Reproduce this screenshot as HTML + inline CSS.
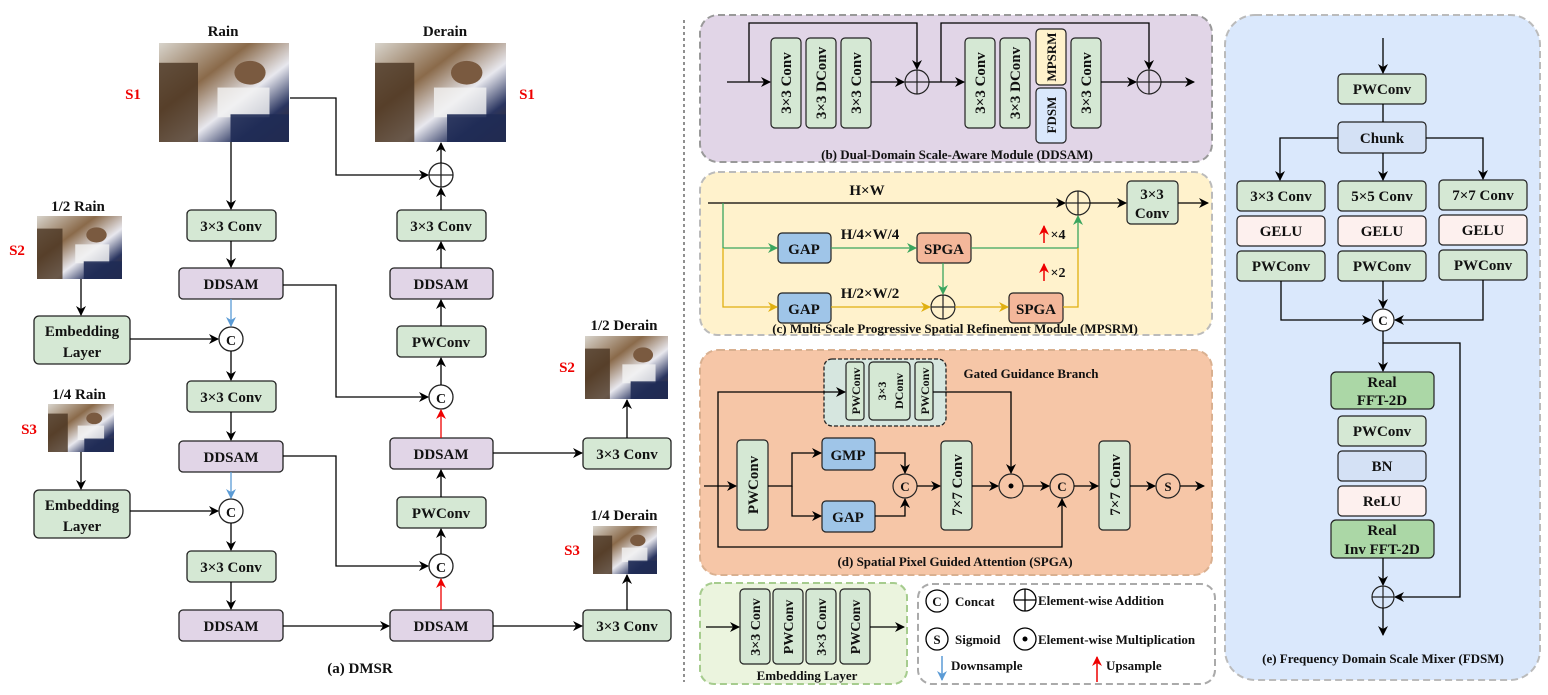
<!DOCTYPE html>
<html><head><meta charset="utf-8"><style>
body{margin:0;background:#fff}
svg, svg text{font-family:"Liberation Serif","DejaVu Serif",serif !important;font-weight:bold}
svg text{fill:#111}
</style></head><body>
<svg width="1548" height="690" viewBox="0 0 1548 690" xmlns="http://www.w3.org/2000/svg" font-family="Liberation Serif, serif" font-weight="bold">
<defs>
<marker id="a" markerWidth="10" markerHeight="10" refX="9" refY="5" orient="auto" markerUnits="userSpaceOnUse"><path d="M0,0 L10,5 L0,10 L3,5z" fill="#000"/></marker>
<marker id="g" markerWidth="10" markerHeight="10" refX="9" refY="5" orient="auto" markerUnits="userSpaceOnUse"><path d="M0,0 L10,5 L0,10 L3,5z" fill="#3aa55e"/></marker>
<marker id="y" markerWidth="10" markerHeight="10" refX="9" refY="5" orient="auto" markerUnits="userSpaceOnUse"><path d="M0,0 L10,5 L0,10 L3,5z" fill="#e0b010"/></marker>
<marker id="r" markerWidth="10" markerHeight="10" refX="9" refY="5" orient="auto" markerUnits="userSpaceOnUse"><path d="M0,0 L10,5 L0,10 L3,5z" fill="#e00"/></marker>
<marker id="b" markerWidth="10" markerHeight="10" refX="9" refY="5" orient="auto" markerUnits="userSpaceOnUse"><path d="M0,0 L10,5 L0,10 L3,5z" fill="#5b9bd5"/></marker>
<linearGradient id="img" x1="0" y1="0" x2="1" y2="1">
<stop offset="0" stop-color="#d8d4cc"/><stop offset="0.35" stop-color="#8a6a4a"/><stop offset="0.6" stop-color="#e8e8ee"/><stop offset="0.8" stop-color="#2a3560"/><stop offset="1" stop-color="#3a2a20"/></linearGradient>
<g id="pic"><rect width="100" height="100" fill="url(#img)"/><rect x="0" y="20" width="30" height="80" fill="#4a3422" opacity="0.8"/><rect x="45" y="45" width="40" height="30" fill="#f2f2f2" opacity="0.8"/><rect x="55" y="72" width="45" height="28" fill="#1f2b55" opacity="0.9"/><circle cx="70" cy="30" r="12" fill="#7a5a40"/></g>
</defs>

<!-- ===== (a) ===== -->
<g font-size="15">
<text x="223" y="36" text-anchor="middle">Rain</text>
<text x="445" y="36" text-anchor="middle">Derain</text>
<use href="#pic" transform="translate(159,43) scale(1.3,0.99)"/>
<use href="#pic" transform="translate(375,43) scale(1.31,0.99)"/>
<text x="133" y="99" text-anchor="middle" style="fill:#e00">S1</text>
<text x="527" y="99" text-anchor="middle" style="fill:#e00">S1</text>
<text x="78" y="211" text-anchor="middle">1/2 Rain</text>
<use href="#pic" transform="translate(37,216) scale(0.85,0.63)"/>
<text x="17" y="255" text-anchor="middle" style="fill:#e00">S2</text>
<text x="79" y="399" text-anchor="middle">1/4 Rain</text>
<use href="#pic" transform="translate(48,404) scale(0.66,0.48)"/>
<text x="29" y="434" text-anchor="middle" style="fill:#e00">S3</text>
<text x="624" y="330" text-anchor="middle">1/2 Derain</text>
<use href="#pic" transform="translate(585,336) scale(0.83,0.63)"/>
<text x="567" y="372" text-anchor="middle" style="fill:#e00">S2</text>
<text x="624" y="520" text-anchor="middle">1/4 Derain</text>
<use href="#pic" transform="translate(593,526) scale(0.64,0.48)"/>
<text x="572" y="555" text-anchor="middle" style="fill:#e00">S3</text>
</g>
<g stroke="#222" stroke-width="1.3" font-size="15">
<rect x="187" y="210" width="89" height="31" rx="4" fill="#d5e8d4"/>
<rect x="179" y="268" width="104" height="31" rx="4" fill="#e1d5e7"/>
<rect x="187" y="381" width="89" height="31" rx="4" fill="#d5e8d4"/>
<rect x="179" y="441" width="104" height="31" rx="4" fill="#e1d5e7"/>
<rect x="187" y="551" width="89" height="31" rx="4" fill="#d5e8d4"/>
<rect x="179" y="610" width="104" height="31" rx="4" fill="#e1d5e7"/>
<rect x="34" y="316" width="96" height="48" rx="5" fill="#d5e8d4"/>
<rect x="34" y="490" width="96" height="48" rx="5" fill="#d5e8d4"/>
<rect x="397" y="210" width="89" height="31" rx="4" fill="#d5e8d4"/>
<rect x="390" y="268" width="103" height="31" rx="4" fill="#e1d5e7"/>
<rect x="397" y="326" width="89" height="31" rx="4" fill="#d5e8d4"/>
<rect x="390" y="438" width="103" height="31" rx="4" fill="#e1d5e7"/>
<rect x="397" y="497" width="89" height="31" rx="4" fill="#d5e8d4"/>
<rect x="390" y="610" width="103" height="31" rx="4" fill="#e1d5e7"/>
<rect x="583" y="438" width="88" height="31" rx="4" fill="#d5e8d4"/>
<rect x="583" y="610" width="88" height="31" rx="4" fill="#d5e8d4"/>
<circle cx="231" cy="339" r="12" fill="#fff"/><circle cx="231" cy="511" r="12" fill="#fff"/>
<circle cx="441" cy="397" r="12" fill="#fff"/><circle cx="441" cy="566" r="12" fill="#fff"/>
<circle cx="441" cy="175" r="12" fill="#fff"/><path d="M429,175H453M441,163V187" fill="none"/>
</g>
<g font-size="15" text-anchor="middle">
<text x="231" y="231">3×3 Conv</text><text x="231" y="289">DDSAM</text>
<text x="231" y="402">3×3 Conv</text><text x="231" y="462">DDSAM</text>
<text x="231" y="572">3×3 Conv</text><text x="231" y="631">DDSAM</text>
<text x="82" y="336">Embedding</text><text x="82" y="357">Layer</text>
<text x="82" y="510">Embedding</text><text x="82" y="531">Layer</text>
<text x="441" y="231">3×3 Conv</text><text x="441" y="289">DDSAM</text>
<text x="441" y="347">PWConv</text><text x="441" y="459">DDSAM</text>
<text x="441" y="518">PWConv</text><text x="441" y="631">DDSAM</text>
<text x="627" y="459">3×3 Conv</text><text x="627" y="631">3×3 Conv</text>
<text x="231" y="345" font-size="14">C</text><text x="231" y="517" font-size="14">C</text>
<text x="441" y="403" font-size="14">C</text><text x="441" y="572" font-size="14">C</text>
<text x="360" y="673">(a) DMSR</text>
</g>
<g stroke="#000" stroke-width="1.3" fill="none" marker-end="url(#a)">
<path d="M290,98H336V175H428"/>
<path d="M231,142V209"/><path d="M231,241V267"/>
<path d="M231,351V380"/><path d="M231,412V440"/><path d="M231,523V550"/><path d="M231,582V609"/>
<path d="M81,279V315"/><path d="M81,452V489"/>
<path d="M130,339H218"/><path d="M130,511H218"/>
<path d="M283,285H336V397H428"/><path d="M283,456H336V566H428"/>
<path d="M283,626H389"/><path d="M493,626H582"/><path d="M493,453H582"/>
<path d="M627,438V400"/><path d="M627,610V575"/>
<path d="M441,385V358"/><path d="M441,326V300"/><path d="M441,268V242"/><path d="M441,210V188"/><path d="M441,163V143"/>
<path d="M441,554V529"/><path d="M441,497V470"/>
</g>
<path d="M231,299V326" stroke="#5b9bd5" stroke-width="1.3" marker-end="url(#b)"/>
<path d="M231,472V498" stroke="#5b9bd5" stroke-width="1.3" marker-end="url(#b)"/>
<path d="M441,438V410" stroke="#e00" stroke-width="1.3" marker-end="url(#r)"/>
<path d="M441,610V579" stroke="#e00" stroke-width="1.3" marker-end="url(#r)"/>
<path d="M684,20V682" stroke="#555" stroke-width="1.3" stroke-dasharray="3,3"/>

<!-- ===== (b) ===== -->
<rect x="700" y="15" width="512" height="147" rx="18" fill="#e1d5e7" stroke="#999" stroke-width="2" stroke-dasharray="7,4"/>
<g stroke="#222" stroke-width="1.2">
<rect x="771" y="38" width="30" height="90" rx="4" fill="#d5e8d4"/>
<rect x="806" y="38" width="30" height="90" rx="4" fill="#d5e8d4"/>
<rect x="841" y="38" width="30" height="90" rx="4" fill="#d5e8d4"/>
<rect x="965" y="38" width="30" height="90" rx="4" fill="#d5e8d4"/>
<rect x="1000" y="38" width="30" height="90" rx="4" fill="#d5e8d4"/>
<rect x="1036" y="29" width="30" height="56" rx="4" fill="#fff2cc"/>
<rect x="1036" y="88" width="30" height="55" rx="4" fill="#dae8fc"/>
<rect x="1071" y="38" width="30" height="90" rx="4" fill="#d5e8d4"/>
<circle cx="917" cy="82" r="12" fill="none"/><path d="M905,82H929M917,70V94" fill="none"/>
<circle cx="1149" cy="82" r="12" fill="none"/><path d="M1137,82H1161M1149,70V94" fill="none"/>
</g>
<g font-size="15" text-anchor="middle">
<text transform="translate(791,83) rotate(-90)">3×3 Conv</text>
<text transform="translate(826,83) rotate(-90)">3×3 DConv</text>
<text transform="translate(861,83) rotate(-90)">3×3 Conv</text>
<text transform="translate(985,83) rotate(-90)">3×3 Conv</text>
<text transform="translate(1020,83) rotate(-90)">3×3 DConv</text>
<text transform="translate(1056,57) rotate(-90)" font-size="13">MPSRM</text>
<text transform="translate(1056,115) rotate(-90)" font-size="13">FDSM</text>
<text transform="translate(1091,83) rotate(-90)">3×3 Conv</text>
<text x="957" y="159" font-size="13">(b) Dual-Domain Scale-Aware Module (DDSAM)</text>
</g>
<g stroke="#000" stroke-width="1.3" fill="none" marker-end="url(#a)">
<path d="M727,82H770"/><path d="M749,82V23H917V69"/><path d="M871,82H904"/>
<path d="M929,82H964"/><path d="M941,82V23H1149V69"/><path d="M1101,82H1136"/><path d="M1161,82H1194"/>
</g>

<!-- ===== (c) ===== -->
<rect x="700" y="172" width="512" height="163" rx="18" fill="#fff2cc" stroke="#bbb" stroke-width="2" stroke-dasharray="7,4"/>
<g stroke="#222" stroke-width="1.2">
<rect x="1127" y="181" width="51" height="43" rx="4" fill="#d5e8d4"/>
<rect x="778" y="233" width="53" height="30" rx="4" fill="#9fc5e8"/>
<rect x="778" y="293" width="53" height="30" rx="4" fill="#9fc5e8"/>
<rect x="917" y="233" width="54" height="30" rx="4" fill="#f4b79a"/>
<rect x="1009" y="293" width="54" height="30" rx="4" fill="#f4b79a"/>
<circle cx="1078" cy="203" r="12" fill="none"/><path d="M1066,203H1090M1078,191V215" fill="none"/>
<circle cx="943" cy="307" r="12" fill="none"/><path d="M931,307H955M943,295V319" fill="none"/>
</g>
<g font-size="15" text-anchor="middle">
<text x="867" y="195">H×W</text>
<text x="1152" y="199">3×3</text><text x="1152" y="218">Conv</text>
<text x="804" y="254">GAP</text><text x="804" y="314">GAP</text>
<text x="944" y="254">SPGA</text><text x="1036" y="314">SPGA</text>
<text x="870" y="239">H/4×W/4</text><text x="870" y="298">H/2×W/2</text>
<text x="1058" y="239" font-size="14">×4</text><text x="1058" y="277" font-size="14">×2</text>
<text x="955" y="333" font-size="13">(c) Multi-Scale Progressive Spatial Refinement Module  (MPSRM)</text>
</g>
<path d="M1044,243V226" stroke="#e00" stroke-width="1.5" marker-end="url(#r)"/>
<path d="M1044,281V264" stroke="#e00" stroke-width="1.5" marker-end="url(#r)"/>
<g stroke="#000" stroke-width="1.3" fill="none" marker-end="url(#a)">
<path d="M708,203H1065"/><path d="M1090,203H1126"/><path d="M1178,203H1208"/>
</g>
<g stroke="#3aa55e" stroke-width="1.3" fill="none" marker-end="url(#g)">
<path d="M723,203V248H777"/><path d="M831,248H916"/><path d="M971,248H1078V216"/><path d="M943,263V294"/>
</g>
<g stroke="#e0b010" stroke-width="1.3" fill="none" marker-end="url(#y)">
<path d="M723,248V307H777"/><path d="M831,307H930"/><path d="M955,307H1008"/>
</g>
<path d="M1063,307H1078V248" stroke="#e0b010" stroke-width="1.3" fill="none"/>

<!-- ===== (d) ===== -->
<rect x="700" y="350" width="512" height="225" rx="18" fill="#f6c6a7" stroke="#d9b090" stroke-width="2" stroke-dasharray="7,4"/>
<rect x="824" y="359" width="122" height="67" rx="8" fill="#d6e6df" stroke="#222" stroke-width="1.3" stroke-dasharray="4,2"/>
<g stroke="#222" stroke-width="1.2">
<rect x="846" y="362" width="18" height="58" rx="3" fill="#d5e8d4"/>
<rect x="869" y="362" width="41" height="58" rx="4" fill="#d5e8d4"/>
<rect x="915" y="362" width="18" height="58" rx="3" fill="#d5e8d4"/>
<rect x="737" y="440" width="31" height="90" rx="4" fill="#d5e8d4"/>
<rect x="822" y="438" width="53" height="32" rx="4" fill="#9fc5e8"/>
<rect x="822" y="501" width="53" height="31" rx="4" fill="#9fc5e8"/>
<rect x="941" y="441" width="31" height="89" rx="4" fill="#d5e8d4"/>
<rect x="1099" y="441" width="31" height="89" rx="4" fill="#d5e8d4"/>
<circle cx="905" cy="486" r="12" fill="none"/><circle cx="1011" cy="486" r="12" fill="none"/>
<circle cx="1062" cy="486" r="12" fill="none"/><circle cx="1168" cy="486" r="12" fill="none"/>
</g>
<circle cx="1011" cy="486" r="2.5" fill="#000"/>
<g font-size="15" text-anchor="middle">
<text transform="translate(860,391) rotate(-90)" font-size="12">PWConv</text>
<text transform="translate(886,391) rotate(-90)" font-size="12">3×3</text>
<text transform="translate(903,391) rotate(-90)" font-size="12">DConv</text>
<text transform="translate(929,391) rotate(-90)" font-size="12">PWConv</text>
<text x="1031" y="378" font-size="13">Gated Guidance Branch</text>
<text transform="translate(758,485) rotate(-90)">PWConv</text>
<text x="848" y="460">GMP</text><text x="848" y="522">GAP</text>
<text transform="translate(962,485) rotate(-90)">7×7 Conv</text>
<text transform="translate(1120,485) rotate(-90)">7×7 Conv</text>
<text x="905" y="491" font-size="13">C</text><text x="1062" y="491" font-size="13">C</text><text x="1168" y="491" font-size="13">S</text>
<text x="955" y="566" font-size="13">(d) Spatial Pixel Guided Attention (SPGA)</text>
</g>
<g stroke="#000" stroke-width="1.3" fill="none" marker-end="url(#a)">
<path d="M704,486H736"/><path d="M718,486V392H845"/><path d="M933,392H1011V473"/>
<path d="M768,486H792V453H821"/><path d="M792,486V516H821"/>
<path d="M875,453H905V473"/><path d="M875,516H905V499"/>
<path d="M917,486H940"/><path d="M972,486H998"/><path d="M1023,486H1049"/>
<path d="M718,486V547H1062V499"/><path d="M1074,486H1098"/><path d="M1130,486H1155"/><path d="M1180,486H1204"/>
</g>

<!-- ===== Embedding ===== -->
<rect x="700" y="583" width="207" height="101" rx="14" fill="#ebf4de" stroke="#a6cc8e" stroke-width="2" stroke-dasharray="7,4"/>
<g stroke="#222" stroke-width="1.2" fill="#d5e8d4">
<rect x="740" y="589" width="30" height="75" rx="4"/><rect x="773" y="589" width="30" height="75" rx="4"/>
<rect x="806" y="589" width="30" height="75" rx="4"/><rect x="840" y="589" width="30" height="75" rx="4"/>
</g>
<g font-size="14" text-anchor="middle">
<text transform="translate(760,627) rotate(-90)">3×3 Conv</text>
<text transform="translate(793,627) rotate(-90)">PWConv</text>
<text transform="translate(826,627) rotate(-90)">3×3 Conv</text>
<text transform="translate(860,627) rotate(-90)">PWConv</text>
<text x="807" y="680" font-size="13">Embedding Layer</text>
</g>
<g stroke="#000" stroke-width="1.3" fill="none" marker-end="url(#a)"><path d="M706,627H739"/><path d="M870,627H904"/></g>

<!-- ===== Legend ===== -->
<rect x="918" y="584" width="297" height="100" rx="14" fill="#fff" stroke="#aaa" stroke-width="2" stroke-dasharray="7,4"/>
<g stroke="#000" stroke-width="1.3" fill="none">
<circle cx="937" cy="601" r="11"/><circle cx="1025" cy="600" r="11"/><path d="M1014,600H1036M1025,589V611"/>
<circle cx="937" cy="639" r="11"/><circle cx="1025" cy="639" r="11"/>
</g>
<circle cx="1025" cy="639" r="2.5" fill="#000"/>
<g font-size="13">
<text x="937" y="606" text-anchor="middle">C</text><text x="955" y="606">Concat</text>
<text x="1038" y="605">Element-wise Addition</text>
<text x="937" y="644" text-anchor="middle">S</text><text x="955" y="644">Sigmoid</text>
<text x="1038" y="644">Element-wise Multiplication</text>
<text x="951" y="670">Downsample</text><text x="1106" y="670">Upsample</text>
</g>
<path d="M942,656V680" stroke="#5b9bd5" stroke-width="1.5" marker-end="url(#b)"/>
<path d="M1097,682V657" stroke="#e00" stroke-width="1.5" marker-end="url(#r)"/>

<!-- ===== (e) ===== -->
<rect x="1225" y="15" width="315" height="665" rx="30" fill="#dae8fc" stroke="#bbb" stroke-width="2" stroke-dasharray="7,4"/>
<g stroke="#222" stroke-width="1.2">
<rect x="1338" y="74" width="88" height="30" rx="4" fill="#d5e8d4"/>
<rect x="1338" y="122" width="88" height="31" rx="4" fill="#d4e1f5"/>
<rect x="1237" y="181" width="88" height="30" rx="4" fill="#d5e8d4"/>
<rect x="1237" y="216" width="88" height="30" rx="4" fill="#fdf0ee"/>
<rect x="1237" y="251" width="88" height="30" rx="4" fill="#d5e8d4"/>
<rect x="1338" y="181" width="88" height="30" rx="4" fill="#d5e8d4"/>
<rect x="1338" y="216" width="88" height="30" rx="4" fill="#fdf0ee"/>
<rect x="1338" y="251" width="88" height="30" rx="4" fill="#d5e8d4"/>
<rect x="1439" y="180" width="88" height="30" rx="4" fill="#d5e8d4"/>
<rect x="1439" y="215" width="88" height="30" rx="4" fill="#fdf0ee"/>
<rect x="1439" y="250" width="88" height="30" rx="4" fill="#d5e8d4"/>
<rect x="1331" y="372" width="103" height="37" rx="5" fill="#abd7a6"/>
<rect x="1338" y="416" width="88" height="30" rx="4" fill="#d5e8d4"/>
<rect x="1338" y="451" width="88" height="30" rx="4" fill="#d4e1f5"/>
<rect x="1338" y="486" width="88" height="30" rx="4" fill="#fdf0ee"/>
<rect x="1331" y="520" width="103" height="38" rx="5" fill="#abd7a6"/>
<circle cx="1383" cy="320" r="11" fill="#fff"/>
<circle cx="1383" cy="597" r="11" fill="none"/><path d="M1372,597H1394M1383,586V608" fill="none"/>
</g>
<g font-size="15" text-anchor="middle">
<text x="1382" y="94">PWConv</text><text x="1382" y="143">Chunk</text>
<text x="1281" y="201">3×3 Conv</text><text x="1281" y="236">GELU</text><text x="1281" y="271">PWConv</text>
<text x="1382" y="201">5×5 Conv</text><text x="1382" y="236">GELU</text><text x="1382" y="271">PWConv</text>
<text x="1483" y="200">7×7 Conv</text><text x="1483" y="235">GELU</text><text x="1483" y="270">PWConv</text>
<text x="1383" y="325" font-size="13">C</text>
<text x="1382" y="387">Real</text><text x="1382" y="405">FFT-2D</text>
<text x="1382" y="436">PWConv</text><text x="1382" y="471">BN</text><text x="1382" y="506">ReLU</text>
<text x="1382" y="535">Real</text><text x="1382" y="554">Inv FFT-2D</text>
<text x="1383" y="663" font-size="13">(e) Frequency Domain Scale Mixer (FDSM)</text>
</g>
<g stroke="#000" stroke-width="1.3" fill="none" marker-end="url(#a)">
<path d="M1383,38V73"/><path d="M1383,153V180"/>
<path d="M1338,138H1280V180"/><path d="M1426,138H1483V179"/>
<path d="M1281,281V320H1371"/><path d="M1383,281V308"/><path d="M1483,280V320H1395"/>
<path d="M1383,331V371"/><path d="M1383,343H1460V597H1395"/>
<path d="M1383,558V585"/><path d="M1383,608V635"/>
</g>
<path d="M1383,104V122" stroke="#000" stroke-width="1.3"/>
</svg>
</body></html>
